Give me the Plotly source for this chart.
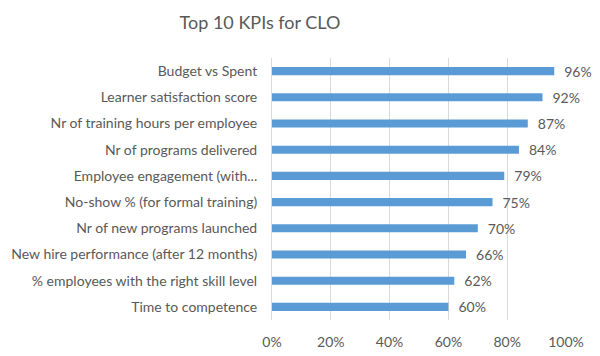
import plotly.graph_objects as go

categories = [
    "Budget vs Spent",
    "Learner satisfaction score",
    "Nr of training hours per employee",
    "Nr of programs delivered",
    "Employee engagement (with...",
    "No-show % (for formal training)",
    "Nr of new programs launched",
    "New hire performance (after 12 months)",
    "% employees with the right skill level",
    "Time to competence",
]
values = [0.96, 0.92, 0.87, 0.84, 0.79, 0.75, 0.70, 0.66, 0.62, 0.60]
tick_vals = [0, 0.2, 0.4, 0.6, 0.8, 1.0]
tick_labels = ["0%", "20%", "40%", "60%", "80%", "100%"]

FONT = "Lato, Open Sans, sans-serif"
GREY = "#595959"

fig = go.Figure(go.Bar(
    x=values,
    y=categories,
    orientation="h",
    width=0.31,
    marker=dict(color="#5B9BD5", line=dict(width=0)),
    text=[f"\u2002{round(v*100)}%" for v in values],
    textposition="outside",
    constraintext="none",
    textfont=dict(family=FONT, size=14, color=GREY),
    cliponaxis=False,
))

W, H = 592, 348
fig.update_layout(
    width=W, height=H,
    margin=dict(l=264, r=34, t=50, b=36, autoexpand=False),
    paper_bgcolor="white", plot_bgcolor="white",
    title=dict(text="Top 10 KPIs for CLO", x=252 / W, xanchor="center",
               y=1 - 15 / H, yanchor="middle", yref="container",
               font=dict(family=FONT, size=18, color=GREY)),
    showlegend=False,
    font=dict(family=FONT, color=GREY),
)
fig.update_xaxes(range=[0, 1.0], tickvals=tick_vals, ticktext=tick_labels,
                 showgrid=True, gridcolor="#D9D9D9", gridwidth=1,
                 zeroline=False, showline=False, automargin=False,
                 tickfont=dict(family=FONT, size=14, color=GREY),
                 ticks="", ticklabelstandoff=12)
fig.update_yaxes(autorange="reversed", showgrid=False, zeroline=False,
                 showline=True, linecolor="#D9D9D9", linewidth=1,
                 automargin=False,
                 tickfont=dict(family=FONT, size=14, color=GREY),
                 ticks="", ticklabelstandoff=11)

fig.write_html("out.html")
